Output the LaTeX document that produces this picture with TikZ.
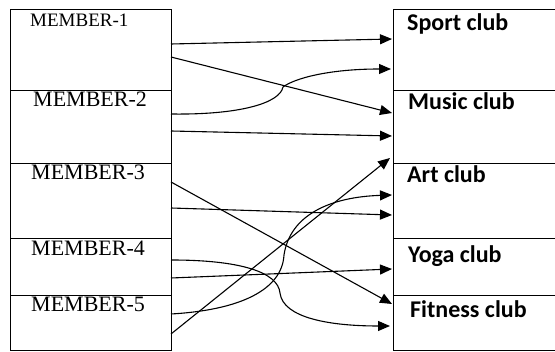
\documentclass[tikz,border=0pt]{standalone}
\usepackage{fontspec}
\setmainfont{Liberation Serif}
\newfontfamily\clubfont{Carlito}
\usetikzlibrary{arrows.meta}
\begin{document}
\begin{tikzpicture}[x=1pt,y=-1pt,
  box/.style={draw,line width=1pt,rectangle,inner sep=0pt,outer sep=0pt,anchor=north west,minimum width=161pt},
  cbox/.style={draw,line width=1pt,rectangle,inner sep=0pt,outer sep=0pt,anchor=north west,minimum width=180pt},
  mem/.style={anchor=base west,inner sep=0pt,font=\fontsize{22}{24}\selectfont},
  club/.style={anchor=base west,inner sep=0pt,font=\clubfont\bfseries\fontsize{24}{26}\selectfont},
  conn/.style={line width=1.1pt,-{Triangle[length=12pt,width=10pt]}}]
\useasboundingbox (0,0) rectangle (555,352);
% left boxes
\node[box,minimum height=81pt] (m1) at (10,10) {};
\node[box,minimum height=73pt] (m2) at (10,91) {};
\node[box,minimum height=75pt] (m3) at (10,164) {};
\node[box,minimum height=57pt] (m4) at (10,239) {};
\node[box,minimum height=54.5pt] (m5) at (10,296) {};
% right boxes
\node[cbox,minimum height=81pt] (s) at (393,10) {};
\node[cbox,minimum height=73pt] (mu) at (393,91) {};
\node[cbox,minimum height=75pt] (a) at (393,164) {};
\node[cbox,minimum height=57pt] (y) at (393,239) {};
\node[cbox,minimum height=54.5pt] (f) at (393,296) {};
% labels
\node[mem,font=\fontsize{19}{21}\selectfont] (l1) at (30,27) {MEMBER-1};
\node[mem] (l2) at (33,107) {MEMBER-2};
\node[mem] (l3) at (31,180) {MEMBER-3};
\node[mem] (l4) at (31,256) {MEMBER-4};
\node[mem] (l5) at (31,312) {MEMBER-5};
\node[club] (c1) at (407,31) {Sport club};
\node[club] (c2) at (408,110) {Music club};
\node[club] (c3) at (407,183) {Art club};
\node[club] (c4) at (408,263) {Yoga club};
\node[club] (c5) at (410,318) {Fitness club};
% connectors
\draw[conn] ([yshift=-34pt]m1.north east) -- ([yshift=-29pt,xshift=-1pt]s.north west);
\draw[conn] ([yshift=-47pt]m1.north east) -- ([yshift=-22pt,xshift=-1pt]mu.north west);
\draw[conn] ([yshift=-23pt]m2.north east) .. controls +(69,1) and (280,103) .. (283,87)
   .. controls (295,78) and (330,69) .. ([yshift=-59pt,xshift=-2pt]s.north west);
\draw[conn] ([yshift=-40pt]m2.north east) -- ([yshift=-45pt,xshift=-1pt]mu.north west);
\draw[conn] ([yshift=-18pt]m3.north east) -- ([yshift=-8pt,xshift=-1pt]f.north west);
\draw[conn] ([yshift=-44pt]m3.north east) -- ([yshift=-51pt,xshift=-1pt]a.north west);
\draw[conn] ([yshift=-21pt]m4.north east) .. controls +(69,0) and (278,272) .. (280,293)
   .. controls (283,318) and (330,326) .. ([yshift=-30pt,xshift=-3pt]f.north west);
\draw[conn] ([yshift=-39pt]m4.north east) -- ([yshift=-30pt,xshift=-1pt]y.north west);
\draw[conn] ([yshift=-18pt]m5.north east) .. controls +(69,-4) and (282,290) .. (284,255)
   .. controls (290,215) and (330,197) .. ([yshift=-31pt,xshift=-1pt]a.north west);
\draw[conn] ([yshift=-38pt]m5.north east) -- ([yshift=-67pt,xshift=-3pt]mu.north west);
\end{tikzpicture}
\end{document}
